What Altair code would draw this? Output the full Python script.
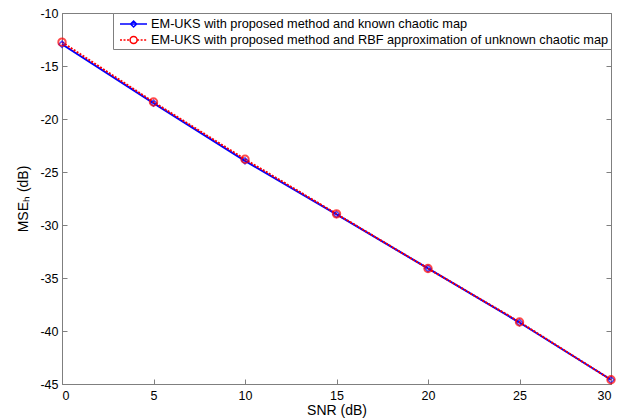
import altair as alt
import pandas as pd

snr_db = [0, 5, 10, 15, 20, 25, 30]
mse_known = [-12.95, -18.5, -23.95, -29.0, -34.1, -39.2, -44.6]
mse_rbf = [-12.75, -18.4, -23.8, -28.95, -34.1, -39.15, -44.6]

series_names = [
    "EM-UKS with proposed method and known chaotic map",
    "EM-UKS with proposed method and RBF approximation of unknown chaotic map",
]
series_colors = ["#0000ff", "#ff0000"]

x_ticks = [0, 5, 10, 15, 20, 25, 30]
y_ticks = [-45, -40, -35, -30, -25, -20, -15, -10]

df = pd.concat([
    pd.DataFrame({"snr": snr_db, "mse": mse_known, "series": series_names[0]}),
    pd.DataFrame({"snr": snr_db, "mse": mse_rbf, "series": series_names[1]}),
])
known = df[df.series == series_names[0]]
rbf = df[df.series == series_names[1]]

FONT = "Liberation Sans"
AXIS_GRAY = "#7f7f7f"
PLAIN_NUMBER = "'' + datum.value"  # ASCII hyphen for negatives

x_scale = alt.Scale(domain=[0, 30], nice=False)
y_scale = alt.Scale(domain=[-45, -10], nice=False)

# main axes: labels + titles, no ticks
x_main = alt.X("snr:Q", scale=x_scale, title="SNR (dB)",
               axis=alt.Axis(values=x_ticks, ticks=False, grid=False,
                             domainColor=AXIS_GRAY, labelPadding=5,
                             titlePadding=2, labelExpr=PLAIN_NUMBER))
y_main = alt.Y("mse:Q", scale=y_scale, title="MSEₕ (dB)",
               axis=alt.Axis(values=y_ticks, ticks=False, grid=False,
                             domainColor=AXIS_GRAY, labelPadding=4,
                             titlePadding=9, labelExpr=PLAIN_NUMBER))

line_known = alt.Chart(known).mark_line(color=series_colors[0], strokeWidth=2).encode(
    x=x_main, y=y_main)

# inward ticks on bottom/left via negative offsets
x_in_bottom = alt.X("snr:Q", scale=x_scale, title=None,
                    axis=alt.Axis(orient="bottom", values=x_ticks, labels=False,
                                  domain=False, grid=False, tickSize=5, offset=-5,
                                  tickColor=AXIS_GRAY))
y_in_left = alt.Y("mse:Q", scale=y_scale, title=None,
                  axis=alt.Axis(orient="left", values=y_ticks, labels=False,
                                domain=False, grid=False, tickSize=5, offset=-5,
                                tickColor=AXIS_GRAY))
line_rbf = alt.Chart(rbf).mark_line(color=series_colors[1], strokeWidth=2,
                                    strokeDash=[2, 1.5]).encode(
    x=x_in_bottom, y=y_in_left)

# inward ticks on top/right
x_in_top = alt.X("snr:Q", scale=x_scale, title=None,
                 axis=alt.Axis(orient="top", values=x_ticks, labels=False,
                               domain=False, grid=False,
                               tickSize=5, offset=-5, tickColor=AXIS_GRAY))
y_in_right = alt.Y("mse:Q", scale=y_scale, title=None,
                   axis=alt.Axis(orient="right", values=y_ticks, labels=False,
                                 domain=False, grid=False, tickSize=5, offset=-5,
                                 tickColor=AXIS_GRAY))
pts_known = alt.Chart(known).mark_point(shape="diamond", size=40, filled=False,
                                        color=series_colors[0], strokeWidth=1.5).encode(
    x=x_in_top, y=y_in_right)

pts_rbf = alt.Chart(rbf).mark_point(shape="circle", size=55, filled=False,
                                    color=series_colors[1], strokeWidth=2).encode(
    x=alt.X("snr:Q", scale=x_scale, axis=None),
    y=alt.Y("mse:Q", scale=y_scale, axis=None))


# legend glyphs: a short line with the series marker in the middle
def dashed(a, b, dash=0.25, gap=0.19):
    parts, p = [], a
    while p < b:
        q = min(p + dash, b)
        parts.append(f"M{p:.3f},0L{q:.3f},0")
        p = q + gap
    return "".join(parts)


blue_glyph = "M-0.5,0L2.875,0M0.82,0L1.2,-0.38L1.58,0L1.2,0.38Z"
red_glyph = (dashed(-0.5, 0.76) + dashed(1.64, 2.875)
             + "M1.64,0A0.44,0.44 0 1,1 0.76,0A0.44,0.44 0 1,1 1.64,0Z")

legend_layer = alt.Chart(df).mark_point(opacity=0, filled=False).encode(
    x=alt.X("snr:Q", scale=x_scale, axis=None),
    y=alt.Y("mse:Q", scale=y_scale, axis=None),
    color=alt.Color("series:N", scale=alt.Scale(domain=series_names, range=series_colors),
                    legend=alt.Legend(title=None, orient="top-right", offset=0)),
    shape=alt.Shape("series:N", scale=alt.Scale(domain=series_names,
                                                range=[blue_glyph, red_glyph]),
                    legend=alt.Legend(title=None, orient="top-right", offset=0)),
)

chart = alt.layer(
    legend_layer, line_known, line_rbf, pts_known, pts_rbf
).resolve_axis(x="independent", y="independent").properties(
    width=549, height=371,
    autosize=alt.AutoSizeParams(type="none"),
    padding={"left": 62, "top": 13, "right": 16, "bottom": 34},
).configure_view(stroke=AXIS_GRAY, strokeWidth=1).configure_axis(
    labelFont=FONT, titleFont=FONT, labelFontSize=12.5, titleFontSize=14,
    labelColor="black", titleColor="black", titleFontWeight="normal",
    domainWidth=1, tickWidth=1,
).configure_legend(
    labelFont=FONT, labelFontSize=12.75, labelColor="black", labelLimit=600,
    strokeColor=AXIS_GRAY, fillColor="white", padding=2, cornerRadius=0,
    symbolSize=256, symbolStrokeWidth=1.5, symbolOpacity=1,
    symbolFillColor="transparent", rowPadding=0, labelOffset=18,
)

chart.save("out.html", embed_options={"renderer": "svg", "actions": False})
